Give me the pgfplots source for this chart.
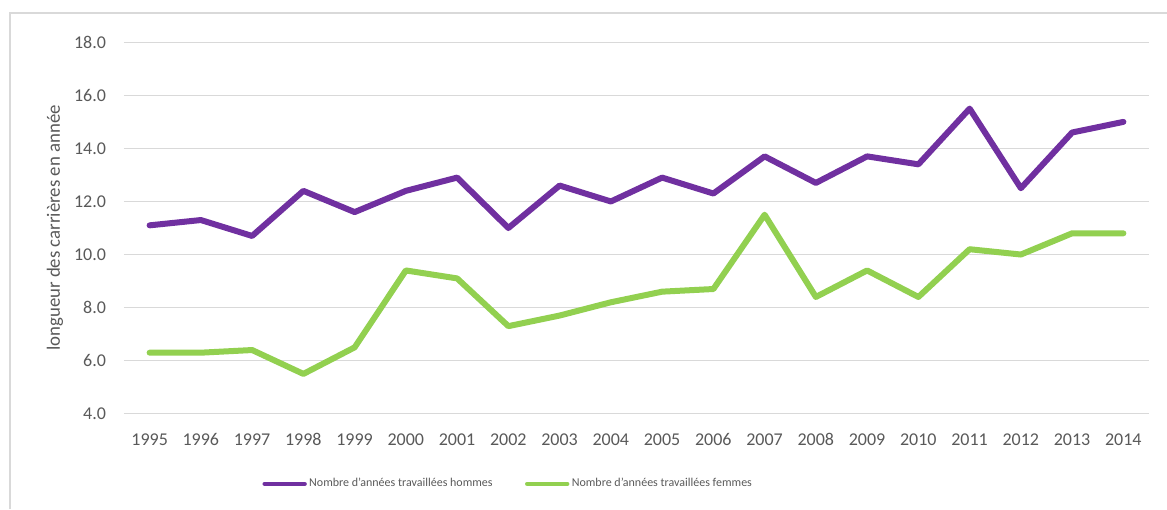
\documentclass[border=0pt]{standalone}
\usepackage{pgfplots}
\pgfplotsset{compat=1.18}
\usepackage{fontspec}
\setmainfont{Carlito}
\definecolor{cpurple}{HTML}{7030A0}
\definecolor{cgreen}{HTML}{92D050}
\definecolor{cgrid}{HTML}{D9D9D9}
\definecolor{ctext}{HTML}{595959}
\begin{document}
\begin{tikzpicture}
\draw[cgrid, line width=0.75pt] (5pt,0pt) -- (5pt,248pt) -- (583.5pt,248pt);
\begin{axis}[
  at={(62pt,47.65pt)}, anchor=south west,
  scale only axis, width=512.5pt, height=185.7pt,
  xmin=1994.5, xmax=2014.5, ymin=4, ymax=18,
  xtick={1995,...,2014}, ytick={4,6,...,18},
  axis line style={draw=none}, major tick style={draw=none},
  ymajorgrids, grid style={cgrid, line width=0.65pt},
  /pgf/number format/assume math mode=true,
  xticklabel style={/pgf/number format/1000 sep={}, font=\fontsize{9}{10}\selectfont, text=ctext, yshift=-6.3pt},
  yticklabel style={/pgf/number format/fixed, /pgf/number format/fixed zerofill, /pgf/number format/precision=1, font=\fontsize{9}{10}\selectfont, text=ctext, xshift=-5.5pt},
  ylabel={longueur des carrières en année},
  every axis y label/.style={at={(axis description cs:-0.0673,0.5)}, rotate=90, anchor=center, font=\fontsize{9.4}{11}\selectfont, text=ctext},
  legend columns=2,
  legend style={draw=none, fill=none, at={(axis description cs:0.375,-0.189)}, anchor=center,
    font=\fontsize{6}{7.5}\selectfont, text=ctext,
    /tikz/every even column/.append style={column sep=15pt},
    nodes={inner sep=1.2pt}},
  legend image code/.code={\draw[#1, line width=2.2pt, line cap=round] (0pt,0pt) -- (20pt,0pt);},
]
\addplot[cpurple, line width=3pt, line join=round, line cap=round] coordinates {
(1995,11.1) (1996,11.3) (1997,10.7) (1998,12.4) (1999,11.6) (2000,12.4) (2001,12.9) (2002,11.0) (2003,12.6) (2004,12.0)
(2005,12.9) (2006,12.3) (2007,13.7) (2008,12.7) (2009,13.7) (2010,13.4) (2011,15.5) (2012,12.5) (2013,14.6) (2014,15.0)};
\addlegendentry{Nombre d'années travaillées hommes}
\addplot[cgreen, line width=3pt, line join=round, line cap=round] coordinates {
(1995,6.3) (1996,6.3) (1997,6.4) (1998,5.5) (1999,6.5) (2000,9.4) (2001,9.1) (2002,7.3) (2003,7.7) (2004,8.2)
(2005,8.6) (2006,8.7) (2007,11.5) (2008,8.4) (2009,9.4) (2010,8.4) (2011,10.2) (2012,10.0) (2013,10.8) (2014,10.8)};
\addlegendentry{Nombre d'années travaillées femmes}
\end{axis}
\pgfresetboundingbox
\path (0pt,0pt) rectangle (583.5pt,254.5pt);
\end{tikzpicture}
\end{document}
